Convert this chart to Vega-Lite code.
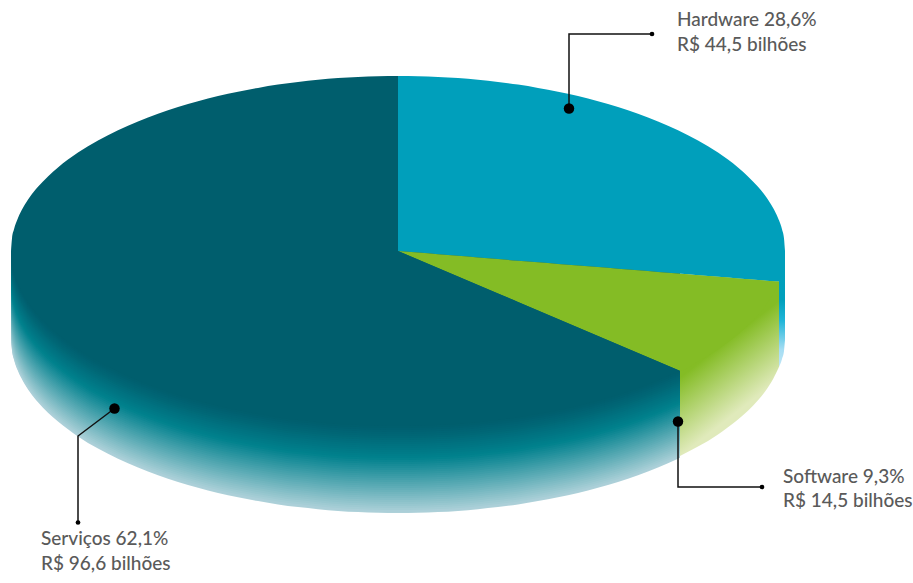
{
"$schema":"https://vega.github.io/schema/vega-lite/v6.json",
"width":913,"height":583,"padding":0,"autosize":"none","background":"white",
"config":{"view":{"stroke":null}},
"datasets":{
"paredeServicos":[
{"x":11,"y":251,"y2":251},{"x":12,"y":263.6,"y2":251},{"x":14,"y":272.7,"y2":251},{"x":18,"y":284.1,"y2":251},{"x":23,"y":294.2,"y2":251},{"x":30,"y":305.2,"y2":251},{"x":38,"y":315.2,"y2":251},{"x":58,"y":334.6,"y2":251},{"x":78,"y":349.4,"y2":251},{"x":98,"y":361.6,"y2":251},{"x":118,"y":371.8,"y2":251},{"x":138,"y":380.6,"y2":251},{"x":158,"y":388.3,"y2":251},{"x":178,"y":395,"y2":251},{"x":198,"y":400.8,"y2":251},{"x":218,"y":405.9,"y2":251},{"x":238,"y":410.3,"y2":251},{"x":258,"y":414.1,"y2":251},{"x":278,"y":417.4,"y2":251},{"x":298,"y":420.1,"y2":251},{"x":318,"y":422.2,"y2":251},{"x":338,"y":423.9,"y2":251},{"x":358,"y":425.1,"y2":251},{"x":378,"y":425.8,"y2":251},{"x":398,"y":426,"y2":251},{"x":418,"y":425.8,"y2":251},{"x":438,"y":425.1,"y2":251},{"x":458,"y":423.9,"y2":251},{"x":478,"y":422.2,"y2":251},{"x":498,"y":420.1,"y2":251},{"x":518,"y":417.4,"y2":251},{"x":538,"y":414.1,"y2":251},{"x":558,"y":410.3,"y2":251},{"x":578,"y":405.9,"y2":251},{"x":598,"y":400.8,"y2":251},{"x":618,"y":395,"y2":251},{"x":638,"y":388.3,"y2":251},{"x":658,"y":380.6,"y2":251},{"x":678,"y":371.8,"y2":251},{"x":680,"y":370.8,"y2":251}
],
"paredeSoftware":[
{"x":680,"y":456,"y2":273.7},{"x":698,"y":446.6,"y2":275.2},{"x":718,"y":434.4,"y2":276.8},{"x":738,"y":419.6,"y2":278.4},{"x":758,"y":400.2,"y2":280},{"x":766,"y":390.2,"y2":280.7},{"x":773,"y":379.2,"y2":281.2},{"x":778,"y":369.1,"y2":281.6},{"x":779,"y":366.7,"y2":281.7}
],
"paredeHardware":[
{"x":779,"y":367,"y2":251},{"x":782,"y":359,"y2":251},{"x":784,"y":351,"y2":251},{"x":785,"y":340,"y2":251}
],
"faces":[
{"fatia":"Hardware","parte":"a","x":398,"y":76,"y2":251},{"fatia":"Hardware","parte":"a","x":418,"y":76.2,"y2":252.6},{"fatia":"Hardware","parte":"a","x":438,"y":76.9,"y2":254.2},{"fatia":"Hardware","parte":"a","x":458,"y":78.1,"y2":255.8},{"fatia":"Hardware","parte":"a","x":478,"y":79.8,"y2":257.4},{"fatia":"Hardware","parte":"a","x":498,"y":81.9,"y2":259.1},{"fatia":"Hardware","parte":"a","x":518,"y":84.6,"y2":260.7},{"fatia":"Hardware","parte":"a","x":538,"y":87.9,"y2":262.3},{"fatia":"Hardware","parte":"a","x":558,"y":91.7,"y2":263.9},{"fatia":"Hardware","parte":"a","x":578,"y":96.1,"y2":265.5},{"fatia":"Hardware","parte":"a","x":598,"y":101.2,"y2":267.1},{"fatia":"Hardware","parte":"a","x":618,"y":107,"y2":268.7},{"fatia":"Hardware","parte":"a","x":638,"y":113.7,"y2":270.3},{"fatia":"Hardware","parte":"a","x":658,"y":121.4,"y2":272},{"fatia":"Hardware","parte":"a","x":678,"y":130.2,"y2":273.6},{"fatia":"Hardware","parte":"a","x":698,"y":140.4,"y2":275.2},{"fatia":"Hardware","parte":"a","x":718,"y":152.6,"y2":276.8},{"fatia":"Hardware","parte":"a","x":738,"y":167.4,"y2":278.4},{"fatia":"Hardware","parte":"a","x":758,"y":186.8,"y2":280},{"fatia":"Hardware","parte":"a","x":766,"y":196.8,"y2":280.7},{"fatia":"Hardware","parte":"a","x":773,"y":207.8,"y2":281.2},{"fatia":"Hardware","parte":"a","x":778,"y":217.9,"y2":281.6},{"fatia":"Hardware","parte":"a","x":779,"y":220.3,"y2":281.7},{"fatia":"Hardware","parte":"a","x":782,"y":229.3,"y2":272.7},{"fatia":"Hardware","parte":"a","x":784,"y":238.4,"y2":263.6},{"fatia":"Hardware","parte":"a","x":785,"y":251,"y2":251},
{"fatia":"Software","parte":"a","x":398,"y":251,"y2":251},{"fatia":"Software","parte":"a","x":418,"y":252.6,"y2":259.5},{"fatia":"Software","parte":"a","x":438,"y":254.2,"y2":268},{"fatia":"Software","parte":"a","x":458,"y":255.8,"y2":276.5},{"fatia":"Software","parte":"a","x":478,"y":257.4,"y2":285},{"fatia":"Software","parte":"a","x":498,"y":259.1,"y2":293.5},{"fatia":"Software","parte":"a","x":518,"y":260.7,"y2":302},{"fatia":"Software","parte":"a","x":538,"y":262.3,"y2":310.5},{"fatia":"Software","parte":"a","x":558,"y":263.9,"y2":319},{"fatia":"Software","parte":"a","x":578,"y":265.5,"y2":327.5},{"fatia":"Software","parte":"a","x":598,"y":267.1,"y2":336},{"fatia":"Software","parte":"a","x":618,"y":268.7,"y2":344.5},{"fatia":"Software","parte":"a","x":638,"y":270.3,"y2":353},{"fatia":"Software","parte":"a","x":658,"y":272,"y2":361.5},{"fatia":"Software","parte":"a","x":678,"y":273.6,"y2":370},{"fatia":"Software","parte":"a","x":680,"y":273.7,"y2":370.8},{"fatia":"Software","parte":"a","x":698,"y":275.2,"y2":361.6},{"fatia":"Software","parte":"a","x":718,"y":276.8,"y2":349.4},{"fatia":"Software","parte":"a","x":738,"y":278.4,"y2":334.6},{"fatia":"Software","parte":"a","x":758,"y":280,"y2":315.2},{"fatia":"Software","parte":"a","x":766,"y":280.7,"y2":305.2},{"fatia":"Software","parte":"a","x":773,"y":281.2,"y2":294.2},{"fatia":"Software","parte":"a","x":778,"y":281.6,"y2":284.1},{"fatia":"Software","parte":"a","x":779,"y":281.7,"y2":281.7},
{"fatia":"Serviços","parte":"a","x":11,"y":251,"y2":251},{"fatia":"Serviços","parte":"a","x":12,"y":238.4,"y2":263.6},{"fatia":"Serviços","parte":"a","x":14,"y":229.3,"y2":272.7},{"fatia":"Serviços","parte":"a","x":18,"y":217.9,"y2":284.1},{"fatia":"Serviços","parte":"a","x":23,"y":207.8,"y2":294.2},{"fatia":"Serviços","parte":"a","x":30,"y":196.8,"y2":305.2},{"fatia":"Serviços","parte":"a","x":38,"y":186.8,"y2":315.2},{"fatia":"Serviços","parte":"a","x":58,"y":167.4,"y2":334.6},{"fatia":"Serviços","parte":"a","x":78,"y":152.6,"y2":349.4},{"fatia":"Serviços","parte":"a","x":98,"y":140.4,"y2":361.6},{"fatia":"Serviços","parte":"a","x":118,"y":130.2,"y2":371.8},{"fatia":"Serviços","parte":"a","x":138,"y":121.4,"y2":380.6},{"fatia":"Serviços","parte":"a","x":158,"y":113.7,"y2":388.3},{"fatia":"Serviços","parte":"a","x":178,"y":107,"y2":395},{"fatia":"Serviços","parte":"a","x":198,"y":101.2,"y2":400.8},{"fatia":"Serviços","parte":"a","x":218,"y":96.1,"y2":405.9},{"fatia":"Serviços","parte":"a","x":238,"y":91.7,"y2":410.3},{"fatia":"Serviços","parte":"a","x":258,"y":87.9,"y2":414.1},{"fatia":"Serviços","parte":"a","x":278,"y":84.6,"y2":417.4},{"fatia":"Serviços","parte":"a","x":298,"y":81.9,"y2":420.1},{"fatia":"Serviços","parte":"a","x":318,"y":79.8,"y2":422.2},{"fatia":"Serviços","parte":"a","x":338,"y":78.1,"y2":423.9},{"fatia":"Serviços","parte":"a","x":358,"y":76.9,"y2":425.1},{"fatia":"Serviços","parte":"a","x":378,"y":76.2,"y2":425.8},{"fatia":"Serviços","parte":"a","x":398,"y":76,"y2":426},
{"fatia":"Serviços","parte":"b","x":398,"y":251,"y2":426},{"fatia":"Serviços","parte":"b","x":418,"y":259.5,"y2":425.8},{"fatia":"Serviços","parte":"b","x":438,"y":268,"y2":425.1},{"fatia":"Serviços","parte":"b","x":458,"y":276.5,"y2":423.9},{"fatia":"Serviços","parte":"b","x":478,"y":285,"y2":422.2},{"fatia":"Serviços","parte":"b","x":498,"y":293.5,"y2":420.1},{"fatia":"Serviços","parte":"b","x":518,"y":302,"y2":417.4},{"fatia":"Serviços","parte":"b","x":538,"y":310.5,"y2":414.1},{"fatia":"Serviços","parte":"b","x":558,"y":319,"y2":410.3},{"fatia":"Serviços","parte":"b","x":578,"y":327.5,"y2":405.9},{"fatia":"Serviços","parte":"b","x":598,"y":336,"y2":400.8},{"fatia":"Serviços","parte":"b","x":618,"y":344.5,"y2":395},{"fatia":"Serviços","parte":"b","x":638,"y":353,"y2":388.3},{"fatia":"Serviços","parte":"b","x":658,"y":361.5,"y2":380.6},{"fatia":"Serviços","parte":"b","x":678,"y":370,"y2":371.8},{"fatia":"Serviços","parte":"b","x":680,"y":370.8,"y2":370.8}
],
"guias":[
{"fatia":"Hardware","seq":1,"x":569,"y":108},{"fatia":"Hardware","seq":2,"x":569,"y":34},{"fatia":"Hardware","seq":3,"x":652,"y":34},
{"fatia":"Software","seq":1,"x":678,"y":421.5},{"fatia":"Software","seq":2,"x":678,"y":487},{"fatia":"Software","seq":3,"x":762,"y":487},
{"fatia":"Serviços","seq":1,"x":114.5,"y":408.5},{"fatia":"Serviços","seq":2,"x":78,"y":436},{"fatia":"Serviços","seq":3,"x":78,"y":522.5}
],
"pontos":[
{"tipo":"fatia","x":569,"y":108.5},{"tipo":"rotulo","x":652,"y":34},
{"tipo":"fatia","x":678,"y":421.5},{"tipo":"rotulo","x":762,"y":487},
{"tipo":"fatia","x":114.5,"y":408.5},{"tipo":"rotulo","x":78,"y":522.5}
],
"rotulos":[
{"x":677,"y":26,"texto":"Hardware 28,6%"},{"x":677,"y":51,"texto":"R$ 44,5 bilhões"},
{"x":783,"y":483,"texto":"Software 9,3%"},{"x":783,"y":507,"texto":"R$ 14,5 bilhões"},
{"x":41,"y":545,"texto":"Serviços 62,1%"},{"x":41,"y":570,"texto":"R$ 96,6 bilhões"}
]
},
"encoding":{
"x":{"field":"x","type":"quantitative","axis":null,"scale":{"domain":[0,913],"nice":false,"zero":false}},
"y":{"field":"y","type":"quantitative","axis":null,"scale":{"domain":[583,0],"nice":false,"zero":false}}
},
"layer":[
{"data":{"name":"paredeServicos"},
"encoding":{"y2":{"field":"y2"}},
"layer":[
{"mark":{"type":"area","interpolate":"monotone","yOffset":87,"color":"#aed1d9"}},
{"mark":{"type":"area","interpolate":"monotone","yOffset":86,"color":"#abcfd8"}},
{"mark":{"type":"area","interpolate":"monotone","yOffset":84,"color":"#a4cdd5"}},
{"mark":{"type":"area","interpolate":"monotone","yOffset":82,"color":"#9ecad2"}},
{"mark":{"type":"area","interpolate":"monotone","yOffset":80,"color":"#97c7cf"}},
{"mark":{"type":"area","interpolate":"monotone","yOffset":78,"color":"#91c4cc"}},
{"mark":{"type":"area","interpolate":"monotone","yOffset":76,"color":"#8bc1c9"}},
{"mark":{"type":"area","interpolate":"monotone","yOffset":74,"color":"#84bec7"}},
{"mark":{"type":"area","interpolate":"monotone","yOffset":72,"color":"#7ebbc4"}},
{"mark":{"type":"area","interpolate":"monotone","yOffset":70,"color":"#77b8c1"}},
{"mark":{"type":"area","interpolate":"monotone","yOffset":68,"color":"#71b5be"}},
{"mark":{"type":"area","interpolate":"monotone","yOffset":66,"color":"#6ab2bb"}},
{"mark":{"type":"area","interpolate":"monotone","yOffset":64,"color":"#64afb9"}},
{"mark":{"type":"area","interpolate":"monotone","yOffset":62,"color":"#5dacb6"}},
{"mark":{"type":"area","interpolate":"monotone","yOffset":60,"color":"#57a9b3"}},
{"mark":{"type":"area","interpolate":"monotone","yOffset":58,"color":"#51a6b0"}},
{"mark":{"type":"area","interpolate":"monotone","yOffset":56,"color":"#4aa3ad"}},
{"mark":{"type":"area","interpolate":"monotone","yOffset":54,"color":"#44a0ab"}},
{"mark":{"type":"area","interpolate":"monotone","yOffset":52,"color":"#3d9da8"}},
{"mark":{"type":"area","interpolate":"monotone","yOffset":50,"color":"#379aa5"}},
{"mark":{"type":"area","interpolate":"monotone","yOffset":48,"color":"#3097a2"}},
{"mark":{"type":"area","interpolate":"monotone","yOffset":46,"color":"#2a949f"}},
{"mark":{"type":"area","interpolate":"monotone","yOffset":44,"color":"#23919d"}},
{"mark":{"type":"area","interpolate":"monotone","yOffset":42,"color":"#1d8e9a"}},
{"mark":{"type":"area","interpolate":"monotone","yOffset":40,"color":"#178b97"}},
{"mark":{"type":"area","interpolate":"monotone","yOffset":38,"color":"#108894"}},
{"mark":{"type":"area","interpolate":"monotone","yOffset":36,"color":"#0a8591"}},
{"mark":{"type":"area","interpolate":"monotone","yOffset":34,"color":"#03838e"}},
{"mark":{"type":"area","interpolate":"monotone","yOffset":32,"color":"#00808c"}},
{"mark":{"type":"area","interpolate":"monotone","yOffset":30,"color":"#007e8a"}},
{"mark":{"type":"area","interpolate":"monotone","yOffset":28,"color":"#007b88"}},
{"mark":{"type":"area","interpolate":"monotone","yOffset":26,"color":"#007986"}},
{"mark":{"type":"area","interpolate":"monotone","yOffset":24,"color":"#007684"}},
{"mark":{"type":"area","interpolate":"monotone","yOffset":22,"color":"#007482"}},
{"mark":{"type":"area","interpolate":"monotone","yOffset":20,"color":"#007280"}},
{"mark":{"type":"area","interpolate":"monotone","yOffset":18,"color":"#006f7e"}},
{"mark":{"type":"area","interpolate":"monotone","yOffset":16,"color":"#006d7c"}},
{"mark":{"type":"area","interpolate":"monotone","yOffset":14,"color":"#006b79"}},
{"mark":{"type":"area","interpolate":"monotone","yOffset":12,"color":"#006877"}},
{"mark":{"type":"area","interpolate":"monotone","yOffset":10,"color":"#006675"}},
{"mark":{"type":"area","interpolate":"monotone","yOffset":8,"color":"#006474"}},
{"mark":{"type":"area","interpolate":"monotone","yOffset":6,"color":"#006272"}},
{"mark":{"type":"area","interpolate":"monotone","yOffset":4,"color":"#006070"}},
{"mark":{"type":"area","interpolate":"monotone","yOffset":2,"color":"#005f6e"}}
]},
{"data":{"name":"paredeHardware"},
"mark":{"type":"area","interpolate":"monotone","color":{"gradient":"linear","x1":0,"y1":0,"x2":0,"y2":1,"stops":[{"offset":0,"color":"#009fbb"},{"offset":0.42,"color":"#00a0bc"},{"offset":0.6,"color":"#1fb5d8"},{"offset":0.85,"color":"#a5ddf3"},{"offset":1,"color":"#c0e6f5"}]}},
"encoding":{"y2":{"field":"y2"}}},
{"data":{"name":"paredeSoftware"},
"mark":{"type":"area","interpolate":"monotone","color":{"gradient":"linear","x1":0,"y1":0.533,"x2":0.167,"y2":0.93,"stops":[{"offset":0,"color":"#84bc25"},{"offset":0.08,"color":"#84bc25"},{"offset":1,"color":"#e0eabb"}]}},
"encoding":{"y2":{"field":"y2"}}},
{"data":{"name":"faces"},
"mark":{"type":"area","interpolate":"monotone"},
"encoding":{
"y2":{"field":"y2"},
"detail":{"field":"parte"},
"color":{"field":"fatia","type":"nominal","legend":null,"scale":{"domain":["Hardware","Software","Serviços"],"range":["#009fbb","#84bc25","#005e6d"]}}
}},
{"data":{"name":"guias"},
"mark":{"type":"line","color":"#111111","strokeWidth":1.5},
"encoding":{"detail":{"field":"fatia"},"order":{"field":"seq"}}},
{"data":{"name":"pontos"},
"mark":{"type":"point","filled":true,"opacity":1,"color":"black"},
"encoding":{"size":{"field":"tipo","type":"nominal","legend":null,"scale":{"domain":["fatia","rotulo"],"range":[110,22]}}}},
{"data":{"name":"rotulos"},
"mark":{"type":"text","align":"left","baseline":"alphabetic","font":"Lato","fontSize":19,"fontWeight":500,"color":"#5a5a5a"},
"encoding":{"text":{"field":"texto"}}}
]
}
